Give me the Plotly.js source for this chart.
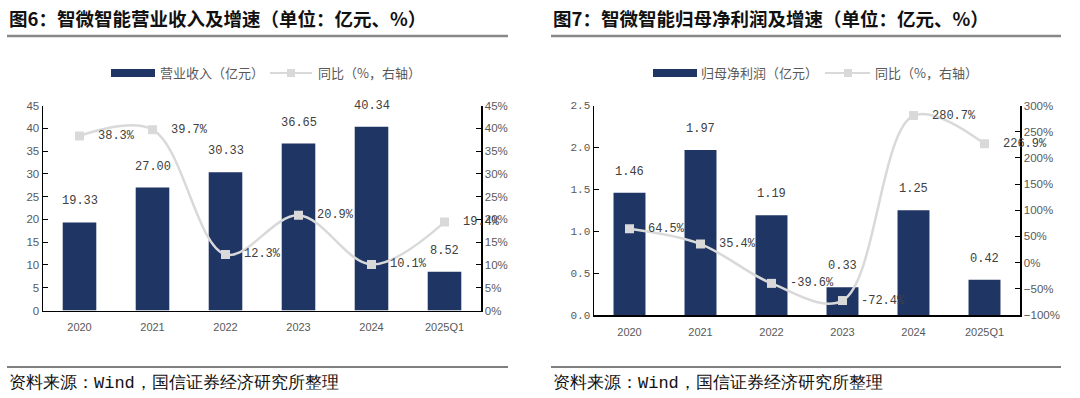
<!DOCTYPE html>
<html>
<head>
<meta charset="utf-8">
<script src="https://cdn.plot.ly/plotly-3.0.1.min.js"></script>
<style>html,body{margin:0;padding:0;background:#fff;}#chart{width:1080px;height:398px;}</style>
</head>
<body>
<div id="chart"></div>
<script>
// ---- data ----
const categories = ['2020', '2021', '2022', '2023', '2024', '2025Q1'];
const revenue = [19.33, 27.00, 30.33, 36.65, 40.34, 8.52];
const revenueYoY = [38.3, 39.7, 12.3, 20.9, 10.1, 19.4];
const netProfit = [1.46, 1.97, 1.19, 0.33, 1.25, 0.42];
const netProfitYoY = [64.5, 35.4, -39.6, -72.4, 280.7, 226.9];
const title1 = '图6：智微智能营业收入及增速（单位：亿元、%）';
const title2 = '图7：智微智能归母净利润及增速（单位：亿元、%）';
const legendBar1 = '营业收入（亿元）';
const legendBar2 = '归母净利润（亿元）';
const legendLine = '同比（%，右轴）';
const source = '资料来源：Wind，国信证券经济研究所整理';

// ---- style ----
const W = 1080, H = 398;
const px = x => x / W;
const py = y => 1 - y / H;
const NAVY = '#1F3564';
const LGRAY = '#D9D9D9';
const TICK = '#595959';
const LABEL = '#404040';
const CJK = '"Noto Sans CJK SC", sans-serif';
const MONO = '"Liberation Mono", "DejaVu Sans Mono", monospace';
const SANS = '"Liberation Sans", Arial, sans-serif';

const traces = [
  {type: 'bar', x: categories, y: revenue, xaxis: 'x', yaxis: 'y', marker: {color: NAVY}, width: 0.46, hoverinfo: 'skip'},
  {type: 'scatter', mode: 'lines+markers', x: categories, y: revenueYoY, xaxis: 'x', yaxis: 'y2',
   line: {color: LGRAY, width: 2.5, shape: 'spline', smoothing: 1}, marker: {symbol: 'square', size: 9, color: LGRAY}, hoverinfo: 'skip'},
  {type: 'bar', x: categories, y: netProfit, xaxis: 'x2', yaxis: 'y3', marker: {color: NAVY}, width: 0.45, hoverinfo: 'skip'},
  {type: 'scatter', mode: 'lines+markers', x: categories, y: netProfitYoY, xaxis: 'x2', yaxis: 'y4',
   line: {color: LGRAY, width: 2.5, shape: 'spline', smoothing: 1}, marker: {symbol: 'square', size: 9, color: LGRAY}, hoverinfo: 'skip'}
];

const annotations = [];
// category axes: annotations use the category index
function barLabels(vals, xa, ya) {
  vals.forEach((v, i) => annotations.push({
    x: i, y: v, xref: xa, yref: ya, text: v.toFixed(2), showarrow: false,
    yanchor: 'bottom', yshift: 12, font: {family: MONO, size: 12, color: LABEL}
  }));
}
function lineLabels(vals, xa, ya) {
  vals.forEach((v, i) => annotations.push({
    x: i, y: v, xref: xa, yref: ya, text: v.toFixed(1) + '%', showarrow: false,
    xanchor: 'left', xshift: 16, yanchor: 'middle', font: {family: MONO, size: 12, color: LABEL}
  }));
}
barLabels(revenue, 'x', 'y');
lineLabels(revenueYoY, 'x', 'y2');
barLabels(netProfit, 'x2', 'y3');
lineLabels(netProfitYoY, 'x2', 'y4');

function paperText(x, y, text, size, color, family, weight) {
  annotations.push({x: px(x), y: py(y), xref: 'paper', yref: 'paper', text: text, showarrow: false,
    xanchor: 'left', yanchor: 'middle', font: {family: family || CJK, size: size, color: color, weight: weight || 'normal'}});
}
// titles
paperText(7, 18, title1, 18.5, '#111', CJK, 'bold');
paperText(551, 18, title2, 18.5, '#111', CJK, 'bold');
// legends text
paperText(158, 73, legendBar1, 13, TICK);
paperText(316, 73, legendLine, 13, TICK);
paperText(699, 73, legendBar2, 13, TICK);
paperText(873, 73, legendLine, 13, TICK);
// sources
paperText(7, 383, source, 17, '#111', MONO);
paperText(551, 383, source, 17, '#111', MONO);

const shapes = [
  // title underline
  {type: 'line', xref: 'paper', yref: 'paper', x0: px(7), x1: px(508), y0: py(36), y1: py(36), line: {color: '#888', width: 2.5}},
  {type: 'line', xref: 'paper', yref: 'paper', x0: px(551), x1: px(1061), y0: py(36), y1: py(36), line: {color: '#888', width: 2.5}},
  // bottom rules
  {type: 'line', xref: 'paper', yref: 'paper', x0: px(7), x1: px(508), y0: py(367), y1: py(367), line: {color: '#000', width: 1}},
  {type: 'line', xref: 'paper', yref: 'paper', x0: px(551), x1: px(1061), y0: py(367), y1: py(367), line: {color: '#000', width: 1}},
  // legend symbols chart 1
  {type: 'rect', xref: 'paper', yref: 'paper', x0: px(111), x1: px(155), y0: py(77), y1: py(69), fillcolor: NAVY, line: {width: 0}},
  {type: 'line', xref: 'paper', yref: 'paper', x0: px(270), x1: px(312), y0: py(73), y1: py(73), line: {color: LGRAY, width: 2}},
  {type: 'rect', xref: 'paper', yref: 'paper', x0: px(287), x1: px(295), y0: py(77), y1: py(69), fillcolor: LGRAY, line: {width: 0}},
  // legend symbols chart 2
  {type: 'rect', xref: 'paper', yref: 'paper', x0: px(653), x1: px(697), y0: py(77), y1: py(69), fillcolor: NAVY, line: {width: 0}},
  {type: 'line', xref: 'paper', yref: 'paper', x0: px(825), x1: px(870), y0: py(73), y1: py(73), line: {color: LGRAY, width: 2}},
  {type: 'rect', xref: 'paper', yref: 'paper', x0: px(844), x1: px(852), y0: py(77), y1: py(69), fillcolor: LGRAY, line: {width: 0}}
];

const axisCommon = {showgrid: false, zeroline: false, showline: true, linecolor: '#000', linewidth: 1.5, automargin: false, fixedrange: true};

const layout = {
  width: W, height: H,
  margin: {l: 0, r: 0, t: 0, b: 0},
  paper_bgcolor: '#fff', plot_bgcolor: 'rgba(0,0,0,0)',
  showlegend: false,
  font: {family: CJK, color: TICK},
  xaxis: Object.assign({}, axisCommon, {type: 'category', range: [-0.5, 5.5], autorange: false, domain: [px(43), px(481)], anchor: 'y', ticks: '',
    tickfont: {family: SANS, size: 11, color: TICK}, ticklabelstandoff: 6}),
  yaxis: Object.assign({}, axisCommon, {domain: [py(310.5), py(105.5)], anchor: 'x', range: [0, 45], autorange: false, dtick: 5,
    ticks: 'inside', ticklen: 5, tickcolor: '#000', tickfont: {family: SANS, size: 11.5, color: TICK}}),
  yaxis2: Object.assign({}, axisCommon, {overlaying: 'y', side: 'right', anchor: 'x', range: [0, 45], autorange: false, dtick: 5, ticksuffix: '%',
    ticks: 'inside', ticklen: 5, tickcolor: '#000', tickfont: {family: SANS, size: 11.5, color: TICK}}),
  xaxis2: Object.assign({}, axisCommon, {type: 'category', range: [-0.5, 5.5], autorange: false, domain: [px(594), px(1020)], anchor: 'y3', ticks: '',
    tickfont: {family: SANS, size: 11, color: TICK}, ticklabelstandoff: 6}),
  yaxis3: Object.assign({}, axisCommon, {domain: [py(315), py(105.5)], anchor: 'x2', range: [0, 2.5], autorange: false, dtick: 0.5, tickformat: '.1f',
    ticks: 'inside', ticklen: 5, tickcolor: '#000', tickfont: {family: MONO, size: 11, color: TICK}}),
  yaxis4: Object.assign({}, axisCommon, {overlaying: 'y3', side: 'right', anchor: 'x2', range: [-100, 300], autorange: false, dtick: 50, ticksuffix: '%',
    ticks: 'inside', ticklen: 5, tickcolor: '#000', tickfont: {family: SANS, size: 11.5, color: TICK}}),
  annotations: annotations,
  shapes: shapes
};

Plotly.newPlot('chart', traces, layout, {staticPlot: true, displayModeBar: false});
</script>
</body>
</html>
